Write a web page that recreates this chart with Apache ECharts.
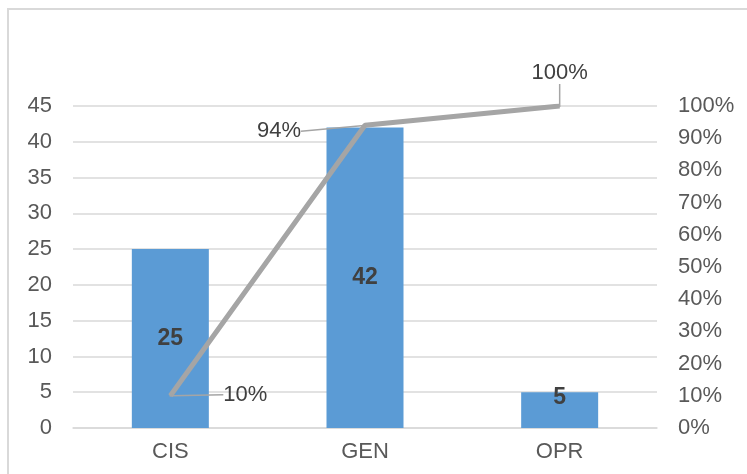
<!DOCTYPE html>
<html>
<head>
<meta charset="utf-8">
<script src="https://cdn.jsdelivr.net/npm/echarts@6/dist/echarts.min.js"></script>
<style>
  html, body { margin: 0; padding: 0; background: #fff; }
  #chart { width: 747px; height: 474px; }
</style>
</head>
<body>
<div id="chart"></div>
<script>
const categories = ['CIS', 'GEN', 'OPR'];
const counts = [25, 42, 5];
const cumulativePct = [10, 94, 100];

// label offsets (dx, dy) for the percentage labels
const pctLabelShift = [[75, 16], [-86, 23], [0, -16]];

const chart = echarts.init(document.getElementById('chart'));
const fontFamily = 'Liberation Sans, Arial, sans-serif';
const axisFont = { color: '#595959', fontSize: 22, fontFamily: fontFamily };

chart.setOption({
    animation: false,
    graphic: [{
        type: 'rect',
        shape: { x: 8, y: 9, width: 760, height: 480 },
        style: { fill: 'none', stroke: '#D9D9D9', lineWidth: 2 },
        silent: true
    }],
    grid: { left: 73, right: 90, top: 106, bottom: 46 },
    xAxis: {
        type: 'category',
        data: categories,
        axisTick: { show: false },
        axisLine: { lineStyle: { color: '#D9D9D9', width: 1.5 } },
        axisLabel: Object.assign({ margin: 13 }, axisFont)
    },
    yAxis: [{
        type: 'value',
        min: 0,
        max: 45,
        interval: 5,
        axisLine: { show: false },
        axisTick: { show: false },
        splitLine: { lineStyle: { color: '#D9D9D9', width: 1.5 } },
        axisLabel: Object.assign({ margin: 21 }, axisFont)
    }, {
        type: 'value',
        min: 0,
        max: 100,
        interval: 10,
        axisLine: { show: false },
        axisTick: { show: false },
        splitLine: { show: false },
        axisLabel: Object.assign({ margin: 21, formatter: '{value}%' }, axisFont)
    }],
    series: [{
        type: 'bar',
        data: counts.map((v, i) => i === 2
            ? { value: v, label: { position: 'insideTop', offset: [0, -11] } }
            : v),
        barWidth: 77,
        itemStyle: { color: '#5B9BD5' },
        label: {
            show: true,
            position: 'inside',
            color: '#404040',
            fontWeight: 'bold',
            fontSize: 23,
            fontFamily: fontFamily
        }
    }, {
        type: 'line',
        yAxisIndex: 1,
        data: cumulativePct,
        symbol: 'circle',
        symbolSize: 2,
        itemStyle: { color: '#A5A5A5' },
        lineStyle: { color: '#A5A5A5', width: 5 },
        label: {
            show: true,
            position: 'top',
            formatter: '{c}%',
            color: '#404040',
            fontSize: 22,
            fontFamily: fontFamily
        },
        labelLine: { show: true, lineStyle: { color: '#A5A5A5', width: 1.5 } },
        labelLayout: function (params) {
            const s = pctLabelShift[params.dataIndex];
            return { dx: s[0], dy: s[1] };
        }
    }]
});
</script>
</body>
</html>
